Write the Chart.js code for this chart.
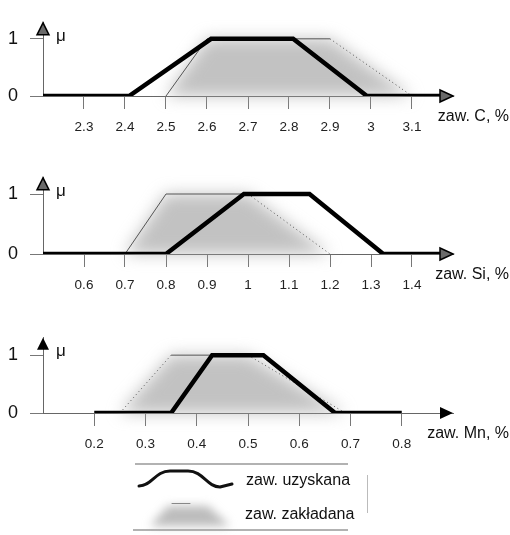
<!DOCTYPE html>
<html>
<head>
<meta charset="utf-8">
<script src="https://cdn.jsdelivr.net/npm/chart.js@4.4.1/dist/chart.umd.min.js"></script>
<style>
  html, body { margin: 0; padding: 0; background: #fff; }
  body { width: 510px; height: 535px; position: relative; overflow: hidden; font-family: "Liberation Sans", Arial, sans-serif; }
  canvas { position: absolute; left: 0; }
  .lg { position: absolute; font-size: 16px; color: #111; white-space: nowrap; }
</style>
</head>
<body>
<canvas id="pC" width="510" height="145" style="top:0px"></canvas>
<canvas id="pSi" width="510" height="145" style="top:155px"></canvas>
<canvas id="pMn" width="510" height="145" style="top:315px"></canvas>
<canvas id="legendIcons" width="510" height="75" style="top:460px"></canvas>
<div class="lg" style="left:246px; top:471px;">zaw. uzyskana</div>
<div class="lg" style="left:245px; top:505px;">zaw. zakładana</div>

<script>
// ==========================
// Data
// ==========================
const cTicks = [2.3, 2.4, 2.5, 2.6, 2.7, 2.8, 2.9, 3, 3.1];
const cObtX = [2.2, 2.41, 2.61, 2.81, 2.99, 3.17];
const cObtY = [0, 0, 1, 1, 0, 0];
const cSetX = [2.5, 2.6, 2.9, 3.1];
const cSetY = [0, 1, 1, 0];

const siTicks = [0.6, 0.7, 0.8, 0.9, 1, 1.1, 1.2, 1.3, 1.4];
const siObtX = [0.5, 0.8, 0.99, 1.15, 1.33, 1.47];
const siObtY = [0, 0, 1, 1, 0, 0];
const siSetX = [0.7, 0.8, 1.0, 1.2];
const siSetY = [0, 1, 1, 0];

const mnTicks = [0.2, 0.3, 0.4, 0.5, 0.6, 0.7, 0.8];
const mnObtX = [0.2, 0.35, 0.43, 0.53, 0.67, 0.8];
const mnObtY = [0, 0, 1, 1, 0, 0];
const mnSetX = [0.25, 0.35, 0.5, 0.69];
const mnSetY = [0, 1, 1, 0];

const yTicks = [0, 1];

const FONT = '"Liberation Sans", Arial, sans-serif';

function pts(xs, ys) {
    return xs.map((x, i) => ({ x: x, y: ys[i] }));
}

// ==========================
// Extras: blurred fill, arrows, labels
// ==========================
const panelExtras = {
    id: "panelExtras",
    beforeDatasetsDraw(chart) {
        const meta = chart.getDatasetMeta(1);
        const ctx = chart.ctx;
        ctx.save();
        ctx.filter = "blur(8px)";
        ctx.fillStyle = "rgba(165,165,165,0.68)";
        ctx.beginPath();
        meta.data.forEach((p, i) => i ? ctx.lineTo(p.x, p.y) : ctx.moveTo(p.x, p.y));
        ctx.closePath();
        ctx.fill();
        ctx.restore();
    },
    afterDraw(chart, args, opts) {
        const ctx = chart.ctx;
        const a = chart.chartArea;
        const solid = opts.solidArrows;
        ctx.save();
        ctx.lineWidth = 1.5;
        ctx.strokeStyle = "#000";
        ctx.fillStyle = solid ? "#000" : "#6a6a6a";
        // y arrow
        ctx.beginPath();
        ctx.moveTo(a.left, a.top);
        ctx.lineTo(a.left - 6, a.top + 12);
        ctx.lineTo(a.left + 6, a.top + 12);
        ctx.closePath();
        ctx.fill();
        if (!solid) ctx.stroke();
        // x arrow
        ctx.beginPath();
        ctx.moveTo(a.right, a.bottom);
        ctx.lineTo(a.right - 13, a.bottom - 6);
        ctx.lineTo(a.right - 13, a.bottom + 6);
        ctx.closePath();
        ctx.fill();
        if (!solid) ctx.stroke();

        ctx.fillStyle = "#111";
        ctx.font = "17px " + FONT;
        ctx.textBaseline = "middle";
        ctx.fillText("\u03bc", a.left + 13, a.top + 14);
        ctx.font = "16px " + FONT;
        ctx.textAlign = "right";
        ctx.fillText(opts.axisLabel, 509, a.bottom + 21);
        ctx.restore();
    }
};

function makePanel(id, o) {
    new Chart(document.getElementById(id), {
        type: "line",
        data: {
            datasets: [{
                label: "zaw. uzyskana",
                data: pts(o.obtX, o.obtY),
                borderColor: "#000",
                borderWidth: 4.5,
                borderJoinStyle: "miter",
                pointRadius: 0
            }, {
                label: "zaw. zakładana",
                data: pts(o.setX, o.setY),
                borderColor: "#555",
                borderWidth: 1,
                pointRadius: 0,
                segment: {
                    borderDash: c => o.dotted.includes(c.p0DataIndex) ? [1, 3] : undefined,
                    borderColor: c => o.dotted.includes(c.p0DataIndex) ? "#555" : "#555"
                }
            }]
        },
        options: {
            responsive: false,
            animation: false,
            layout: { padding: { top: o.padTop, right: 57, left: 0, bottom: 0 } },
            plugins: {
                legend: { display: false },
                tooltip: { enabled: false },
                panelExtras: { axisLabel: o.label, solidArrows: o.solid }
            },
            scales: {
                x: {
                    type: "linear",
                    min: o.min,
                    max: o.max,
                    afterBuildTicks: s => { s.ticks = o.ticks.map(v => ({ value: v })); },
                    afterFit: s => { s.height = o.xh; },
                    grid: { drawOnChartArea: false, tickLength: 13, color: "#777" },
                    border: { color: "#666", width: 1 },
                    ticks: {
                        font: { family: FONT, size: 13.5 },
                        color: "#222",
                        padding: 10,
                        maxRotation: 0,
                        autoSkip: false,
                        callback: v => String(v)
                    }
                },
                y: {
                    type: "linear",
                    min: 0,
                    max: o.ymax,
                    afterBuildTicks: s => { s.ticks = yTicks.map(v => ({ value: v })); },
                    afterFit: s => { s.width = 43; },
                    grid: { drawOnChartArea: false, tickLength: 13, color: "#777" },
                    border: { color: "#666", width: 1 },
                    ticks: {
                        font: { family: FONT, size: 18 },
                        color: "#111",
                        padding: 12,
                        callback: v => String(v)
                    }
                }
            }
        },
        plugins: [panelExtras]
    });
}

makePanel("pC", {
    obtX: cObtX, obtY: cObtY, setX: cSetX, setY: cSetY, ticks: cTicks,
    min: 2.2, max: 3.2, ymax: 1.28, padTop: 5, xh: 49, dotted: [2],
    label: "zaw. C, %", solid: false
});
makePanel("pSi", {
    obtX: siObtX, obtY: siObtY, setX: siSetX, setY: siSetY, ticks: siTicks,
    min: 0.5, max: 1.5, ymax: 1.27, padTop: 10, xh: 46, dotted: [2],
    label: "zaw. Si, %", solid: false
});
makePanel("pMn", {
    obtX: mnObtX, obtY: mnObtY, setX: mnSetX, setY: mnSetY, ticks: mnTicks,
    min: 0.1, max: 0.9, ymax: 1.3, padTop: 7, xh: 47, dotted: [0, 2],
    label: "zaw. Mn, %", solid: true
});

// ==========================
// Legend frame and icons
// ==========================
(function drawLegend() {
    const ctx = document.getElementById("legendIcons").getContext("2d");
    ctx.strokeStyle = "#999";
    ctx.lineWidth = 1.5;
    ctx.beginPath();
    ctx.moveTo(135, 4); ctx.lineTo(348, 4);
    ctx.moveTo(133, 70); ctx.lineTo(348, 70);
    ctx.stroke();
    ctx.strokeStyle = "#bbb";
    ctx.lineWidth = 1;
    ctx.beginPath();
    ctx.moveTo(367.5, 15); ctx.lineTo(367.5, 53);
    ctx.stroke();

    // obtained curve icon
    ctx.strokeStyle = "#111";
    ctx.lineWidth = 3;
    ctx.lineJoin = "round";
    ctx.lineCap = "round";
    ctx.beginPath();
    ctx.moveTo(139, 26);
    ctx.bezierCurveTo(152, 26, 155, 11, 170, 11);
    ctx.lineTo(188, 11);
    ctx.bezierCurveTo(203, 11, 207, 27, 220, 27);
    ctx.lineTo(232, 24);
    ctx.stroke();

    // assumed blurred icon
    ctx.save();
    ctx.filter = "blur(5px)";
    ctx.fillStyle = "rgba(160,160,160,0.7)";
    ctx.beginPath();
    ctx.moveTo(150, 66); ctx.lineTo(168, 46); ctx.lineTo(208, 46); ctx.lineTo(230, 66);
    ctx.closePath();
    ctx.fill();
    ctx.restore();
    ctx.strokeStyle = "#888";
    ctx.lineWidth = 1;
    ctx.beginPath();
    ctx.moveTo(172, 43.5); ctx.lineTo(190, 43.5);
    ctx.stroke();
})();
</script>
</body>
</html>
